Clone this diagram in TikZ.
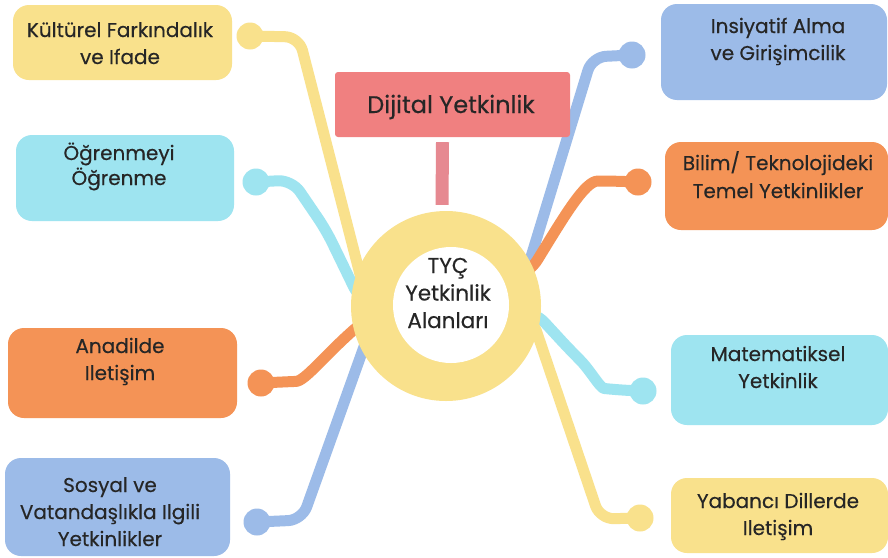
\documentclass[tikz,border=0pt]{standalone}
\usepackage{fontspec}
\setmainfont{Poppins}[FakeBold=0.35]
\definecolor{cyel}{RGB}{249,225,140}
\definecolor{ccyan}{RGB}{158,228,240}
\definecolor{corange}{RGB}{244,147,86}
\definecolor{cblue}{RGB}{156,187,232}
\definecolor{cred}{RGB}{240,128,128}
\definecolor{cstem}{RGB}{230,137,145}
\definecolor{ctext}{RGB}{38,38,38}
\begin{document}
\begin{tikzpicture}[x=1pt,y=-1pt,
  boxshape/.style={rounded corners=16pt, inner sep=0pt},
  boxtext/.style={align=center, text=ctext, font=\fontsize{20}{27}\selectfont, anchor=base, inner sep=0pt},
  conn/.style={line width=11pt, line cap=round, line join=round, rounded corners=14pt},
  dot/.style={circle, inner sep=0pt, minimum size=27pt}]
\useasboundingbox (0,0) rectangle (888,557);
\fill[white] (0,0) rectangle (888,557);
\coordinate (rc) at (446,306);
% dots
\node[dot, fill=cyel]    (d1) at (250,36) {};
\node[dot, fill=ccyan]   (d2) at (256,182) {};
\node[dot, fill=corange] (d3) at (261,383) {};
\node[dot, fill=cblue]   (d4) at (257,522) {};
\node[dot, fill=cblue]   (d5) at (632,55) {};
\node[dot, fill=corange] (d6) at (638,182) {};
\node[dot, fill=ccyan]   (d7) at (643,391) {};
\node[dot, fill=cyel]    (d8) at (640,518) {};
% connectors
\draw[conn, cyel] (d1.center) -- (299,37) -- (364,290) -- (rc);
\draw[conn, ccyan] (d2.center) -- (292,180) -- (326,230) -- (360,300) -- (rc);
\draw[conn, corange] (d3.center) -- (282,382) .. controls (305,381) and (325,355) .. (365,320) -- (rc);
\draw[conn, cblue] (d4.center) -- (302,520) -- (370,330) -- (rc);
\draw[conn, cblue] (d5.center) -- (592,57) -- (527,270) -- (rc);
\draw[conn, corange] (d6.center) -- (612,181) .. controls (585,181) and (565,215) .. (530,272) -- (rc);
\draw[conn, ccyan] (d7.center) -- (618,390) .. controls (600,388) and (590,370) .. (570,350) -- (535,312) -- (rc);
\draw[conn, cyel] (d8.center) -- (600,519) -- (532,318) -- (rc);
% ring
\node[circle, fill=cyel, minimum size=190pt, inner sep=0pt] (ring) at (rc) {};
\node[circle, fill=white, minimum size=116pt, inner sep=0pt] (hole) at (451,305) {};
\node[align=center, text=ctext, font=\fontsize{21.5}{27.5}\selectfont, anchor=base, inner sep=0pt] (ct) at (448,328) {TYÇ\\Yetkinlik\\Alanları};
% Dijital
\node[rounded corners=3pt, fill=cred, minimum width=235pt, minimum height=65pt, inner sep=0pt] (dj) at (452.5,104.5) {};
\node[text=ctext, font=\fontsize{24}{28}\selectfont, anchor=base, inner sep=0pt] (djt) at (451,113) {Dijital Yetkinlik};
\draw[line width=13pt, cstem] ([xshift=-10pt,yshift=-5pt]dj.south) -- ([xshift=-4pt,yshift=6pt]ring.north);
% boxes
\node[boxshape, fill=cyel, minimum width=219pt, minimum height=75pt] (kf) at (122.5,42.5) {};
\node[boxshape, fill=ccyan, minimum width=218pt, minimum height=86pt] (og) at (125,178) {};
\node[boxshape, fill=corange, minimum width=229pt, minimum height=90pt] (ad) at (122.5,373) {};
\node[boxshape, fill=cblue, minimum width=225pt, minimum height=98pt] (sv) at (117.5,507) {};
\node[boxshape, fill=cblue, minimum width=226pt, minimum height=96pt] (ia) at (774,52) {};
\node[boxshape, fill=corange, minimum width=223pt, minimum height=88pt] (bt) at (776.5,186) {};
\node[boxshape, fill=ccyan, minimum width=217pt, minimum height=90pt] (mt) at (779.5,380) {};
\node[boxshape, fill=cyel, minimum width=217pt, minimum height=75pt] (yd) at (779.5,515.5) {};
% texts (anchor at baseline of last line)
\node[boxtext] (kft) at (120,64) {Kültürel Farkındalık\\ve Ifade};
\node[boxtext, font=\fontsize{20}{25}\selectfont] (ogt) at (119,185) {Öğrenmeyi\\Öğrenme};
\node[boxtext] (adt) at (120,380) {Anadilde\\Iletişim};
\node[boxtext] (svt) at (110,546) {Sosyal ve\\Vatandaşlıkla Ilgili\\Yetkinlikler};
\node[boxtext] (iat) at (778,60) {Insiyatif Alma\\ve Girişimcilik};
\node[boxtext, font=\fontsize{20}{28}\selectfont] (btt) at (778,198) {Bilim/ Teknolojideki\\Temel Yetkinlikler};
\node[boxtext] (mtt) at (778,388) {Matematiksel\\Yetkinlik};
\node[boxtext] (ydt) at (778,535) {Yabancı Dillerde\\Iletişim};
\end{tikzpicture}
\end{document}
